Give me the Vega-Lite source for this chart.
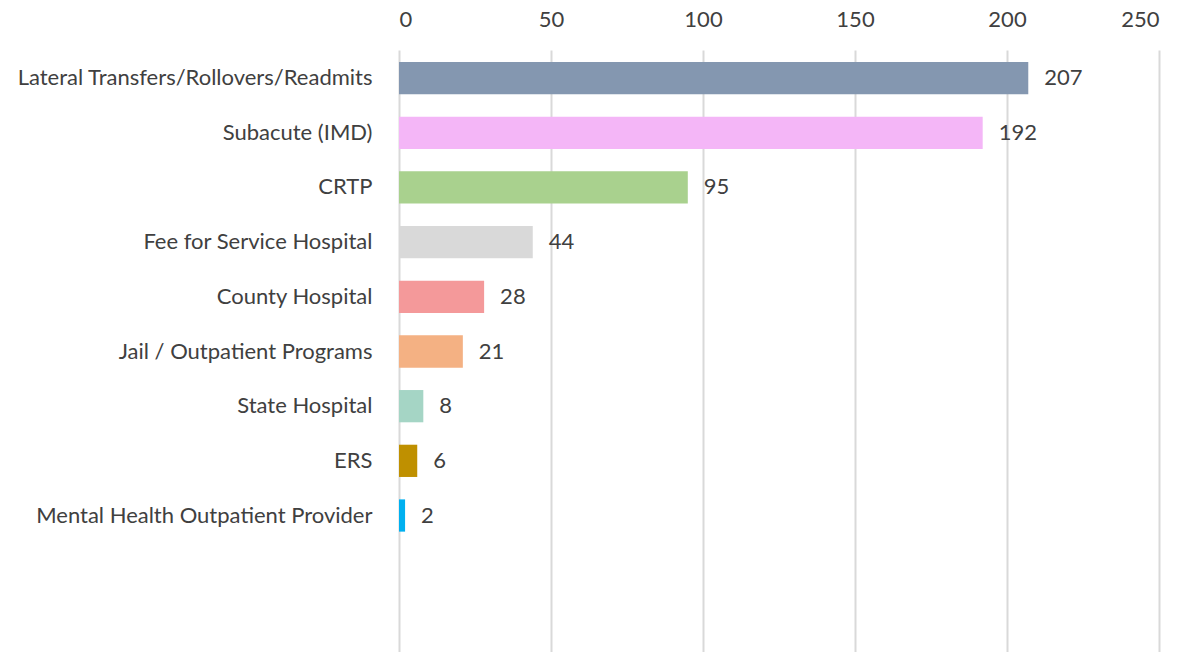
{
  "$schema": "https://vega.github.io/schema/vega-lite/v6.json",
  "width": 760,
  "height": 603,
  "autosize": {"type": "none"},
  "padding": {"left": 399, "top": 50, "right": 31, "bottom": 0},
  "background": "white",
  "config": {"view": {"stroke": null}, "font": "Lato"},
  "data": {
    "values": [
      {"category": "Lateral Transfers/Rollovers/Readmits", "count": 207},
      {"category": "Subacute (IMD)", "count": 192},
      {"category": "CRTP", "count": 95},
      {"category": "Fee for Service Hospital", "count": 44},
      {"category": "County Hospital", "count": 28},
      {"category": "Jail / Outpatient Programs", "count": 21},
      {"category": "State Hospital", "count": 8},
      {"category": "ERS", "count": 6},
      {"category": "Mental Health Outpatient Provider", "count": 2}
    ]
  },
  "encoding": {
    "y": {
      "field": "category",
      "type": "nominal",
      "sort": null,
      "scale": {
        "domain": ["Lateral Transfers/Rollovers/Readmits", "Subacute (IMD)", "CRTP", "Fee for Service Hospital", "County Hospital", "Jail / Outpatient Programs", "State Hospital", "ERS", "Mental Health Outpatient Provider", " ", "  "],
        "paddingInner": 0.41,
        "paddingOuter": 0.22
      },
      "axis": {
        "title": null,
        "domain": false,
        "ticks": false,
        "labelPadding": 27,
        "labelFontSize": 22,
        "labelColor": "#404040",
        "labelFont": "Lato",
        "labelLimit": 400
      }
    },
    "x": {
      "field": "count",
      "type": "quantitative",
      "scale": {"domain": [0, 250], "nice": false},
      "axis": {
        "orient": "top",
        "title": null,
        "values": [0, 50, 100, 150, 200, 250],
        "domain": false,
        "ticks": false,
        "labelPadding": 19,
        "labelFontSize": 22,
        "labelColor": "#404040",
        "labelFont": "Lato",
        "grid": true,
        "gridColor": "#D9D9D9",
        "gridWidth": 2
      }
    }
  },
  "layer": [
    {
      "mark": {"type": "bar"},
      "encoding": {
        "color": {
          "field": "category",
          "type": "nominal",
          "legend": null,
          "scale": {
            "domain": ["Lateral Transfers/Rollovers/Readmits", "Subacute (IMD)", "CRTP", "Fee for Service Hospital", "County Hospital", "Jail / Outpatient Programs", "State Hospital", "ERS", "Mental Health Outpatient Provider"],
            "range": ["#8497B0", "#F4B6F7", "#A9D18E", "#D9D9D9", "#F4999A", "#F4B183", "#A5D5C5", "#BF9000", "#00B0F0"]
          }
        }
      }
    },
    {
      "mark": {"type": "text", "align": "left", "baseline": "middle", "dx": 16, "fontSize": 22, "color": "#404040", "font": "Lato"},
      "encoding": {"text": {"field": "count", "type": "quantitative"}}
    }
  ]
}
